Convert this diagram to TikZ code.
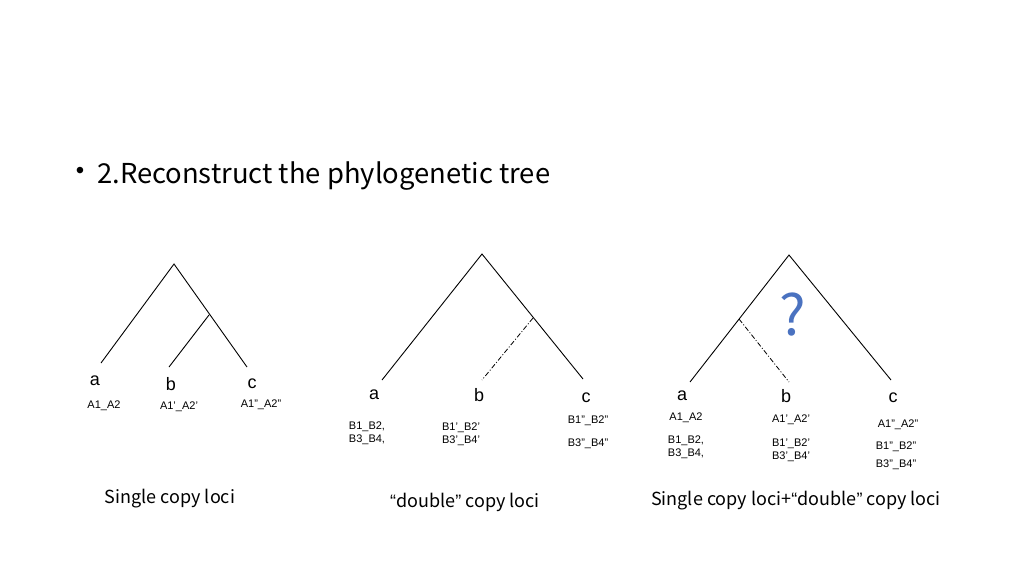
\documentclass[tikz,border=0pt]{standalone}
\usepackage{fontspec}
\setmainfont{Liberation Sans}
\newfontfamily\cjkf{Noto Sans CJK SC}
\newcommand{\myoq}{{\rmfamily “}}
\newcommand{\mycq}{{\rmfamily ”}}
\begin{document}
\begin{tikzpicture}[x=1pt,y=-1pt,
  edge/.style={line width=0.9pt,black},
  dd/.style={line width=0.8pt,black,dash pattern=on 5pt off 2pt on 1pt off 2pt},
  leaf/.style={font=\fontsize{18}{18}\selectfont,inner sep=0pt},
  lbl/.style={font=\fontsize{11}{13}\selectfont,inner sep=0pt,align=left},
  captxt/.style={font=\cjkf\fontsize{18}{18}\selectfont,inner sep=0pt},
  ]
\useasboundingbox (0,0) rectangle (1024,576);
% title
\node[font=\fontsize{24}{24}\selectfont,anchor=center,inner sep=0pt] (bul) at (80,173) {•};
\node[font=\cjkf\fontsize{27.4}{28}\selectfont,anchor=west,inner sep=0pt] (title) at (97,176) {2.Reconstruct the phylogenetic tree};
% tree 1
\coordinate (r1) at (174,264);
\coordinate (a1) at (101,363);
\coordinate (c1) at (247,367);
\coordinate (n1) at (209,315);
\coordinate (b1) at (169,367);
\draw[edge] (a1) -- (r1) -- (c1);
\draw[edge] (n1) -- (b1);
\node[leaf] (la1) at (95,381) {a};
\node[leaf] (lb1) at (171,384) {b};
\node[leaf] (lc1) at (252,384) {c};
\node[lbl] (ta1) at (104,406) {A1\_A2};
\node[lbl] (tb1) at (179,407) {A1'\_A2'};
\node[lbl] (tc1) at (261,405) {A1"\_A2"};
\node[captxt] (cap1) at (170,499) {Single copy loci};
% tree 2
\coordinate (r2) at (482,254);
\coordinate (a2) at (382,380);
\coordinate (c2) at (583,379);
\coordinate (n2) at (533,318);
\coordinate (b2) at (482,380);
\draw[edge] (a2) -- (r2) -- (c2);
\draw[dd] (n2) -- (b2);
\node[leaf] (la2) at (374,395) {a};
\node[leaf] (lb2) at (479,395) {b};
\node[leaf] (lc2) at (586,398) {c};
\node[lbl] (ta2) at (367,433) {B1\_B2,\\B3\_B4,};
\node[lbl] (tb2) at (461,434) {B1'\_B2'\\B3'\_B4'};
\node[lbl] (tc2a) at (588,421) {B1"\_B2"};
\node[lbl] (tc2b) at (588,444) {B3"\_B4"};
\node[captxt] (cap2) at (465,502) {\myoq double\mycq{} copy loci};
% tree 3
\coordinate (r3) at (789,255);
\coordinate (a3) at (690,382);
\coordinate (c3) at (891,380);
\coordinate (n3) at (739,319);
\coordinate (b3) at (789,382);
\draw[edge] (a3) -- (r3) -- (c3);
\draw[dd] (n3) -- (b3);
\node[font=\cjkf\fontsize{56}{56}\selectfont,text={rgb,255:red,74;green,114;blue,192},inner sep=0pt] (q) at (793,315) {?};
\node[leaf] (la3) at (682,396) {a};
\node[leaf] (lb3) at (786,396) {b};
\node[leaf] (lc3) at (893,398) {c};
\node[lbl] (ta3) at (686,418) {A1\_A2};
\node[lbl] (ta3b) at (686,447) {B1\_B2,\\B3\_B4,};
\node[lbl] (tb3) at (791,420) {A1'\_A2'};
\node[lbl] (tb3b) at (791,450) {B1'\_B2'\\B3'\_B4'};
\node[lbl] (tc3) at (898,425) {A1"\_A2"};
\node[lbl] (tc3b) at (896,447) {B1"\_B2"};
\node[lbl] (tc3c) at (896,465) {B3"\_B4"};
\node[captxt] (cap3) at (796,501) {Single copy loci+\myoq double\mycq{} copy loci};
\end{tikzpicture}
\end{document}
